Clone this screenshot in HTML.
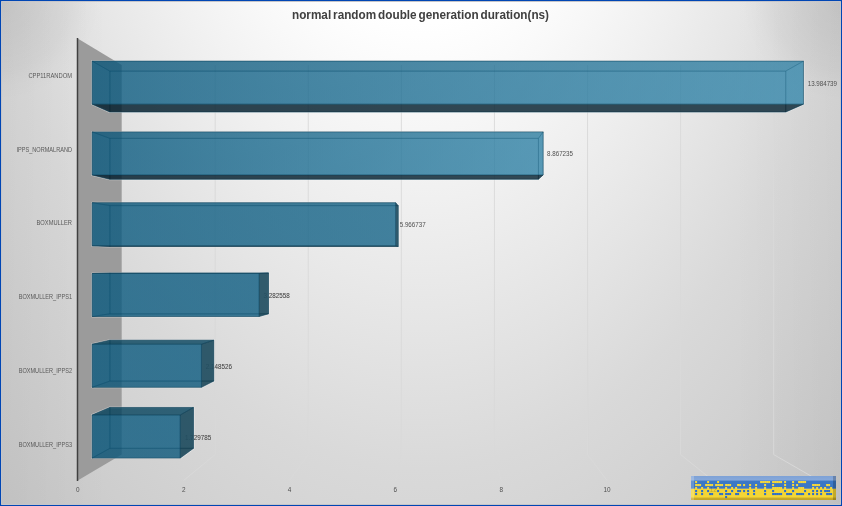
<!DOCTYPE html>
<html><head><meta charset="utf-8"><title>chart</title>
<style>html,body{margin:0;padding:0;background:#d0d0d0;overflow:hidden}body{width:842px;height:506px;position:relative;font-family:"Liberation Sans",sans-serif}</style>
</head><body>
<svg width="842" height="506" viewBox="0 0 842 506" style="position:absolute;left:0;top:0;will-change:transform;font-family:'Liberation Sans',sans-serif">
<defs>
<radialGradient id="bg" gradientUnits="userSpaceOnUse" cx="0" cy="0" r="1.4142" gradientTransform="translate(421,-405) scale(500,910.8)"><stop offset="0" stop-color="#ffffff"/><stop offset="0.3324" stop-color="#ffffff"/><stop offset="0.679" stop-color="#d9d9d9"/><stop offset="1" stop-color="#c0c0c0"/></radialGradient>
<radialGradient id="cnr" gradientUnits="userSpaceOnUse" cx="0" cy="0" r="100"><stop offset="0" stop-color="#000" stop-opacity="0.09"/><stop offset="0.2" stop-color="#000" stop-opacity="0.07"/><stop offset="0.35" stop-color="#000" stop-opacity="0.062"/><stop offset="0.7" stop-color="#000" stop-opacity="0.034"/><stop offset="0.85" stop-color="#000" stop-opacity="0.012"/><stop offset="1" stop-color="#000" stop-opacity="0"/></radialGradient>
<linearGradient id="edg" gradientUnits="userSpaceOnUse" x1="0" y1="0" x2="110" y2="0"><stop offset="0" stop-color="#000" stop-opacity="0.03"/><stop offset="1" stop-color="#000" stop-opacity="0"/></linearGradient>
<linearGradient id="bar0" gradientUnits="userSpaceOnUse" x1="92.18" y1="0" x2="803.45" y2="0"><stop offset="0" stop-color="rgb(11,90,127)"/><stop offset="1" stop-color="rgb(54,136,172)"/></linearGradient>
<linearGradient id="barD0" gradientUnits="userSpaceOnUse" x1="92.18" y1="0" x2="803.45" y2="0"><stop offset="0" stop-color="rgb(9,77,109)"/><stop offset="1" stop-color="rgb(49,122,155)"/></linearGradient>
<linearGradient id="bar1" gradientUnits="userSpaceOnUse" x1="92.18" y1="0" x2="543.17" y2="0"><stop offset="0" stop-color="rgb(11,90,127)"/><stop offset="1" stop-color="rgb(48,130,166)"/></linearGradient>
<linearGradient id="barD1" gradientUnits="userSpaceOnUse" x1="92.18" y1="0" x2="543.17" y2="0"><stop offset="0" stop-color="rgb(9,77,109)"/><stop offset="1" stop-color="rgb(43,117,149)"/></linearGradient>
<linearGradient id="bar2" gradientUnits="userSpaceOnUse" x1="92.18" y1="0" x2="395.65" y2="0"><stop offset="0" stop-color="rgb(11,90,127)"/><stop offset="1" stop-color="rgb(21,100,136)"/></linearGradient>
<linearGradient id="barD2" gradientUnits="userSpaceOnUse" x1="92.18" y1="0" x2="395.65" y2="0"><stop offset="0" stop-color="rgb(9,77,109)"/><stop offset="1" stop-color="rgb(19,90,122)"/></linearGradient>
<linearGradient id="bar3" gradientUnits="userSpaceOnUse" x1="92.18" y1="0" x2="259.13" y2="0"><stop offset="0" stop-color="rgb(11,90,127)"/><stop offset="1" stop-color="rgb(13,92,129)"/></linearGradient>
<linearGradient id="barD3" gradientUnits="userSpaceOnUse" x1="92.18" y1="0" x2="259.13" y2="0"><stop offset="0" stop-color="rgb(9,77,109)"/><stop offset="1" stop-color="rgb(12,83,116)"/></linearGradient>
<linearGradient id="bar4" gradientUnits="userSpaceOnUse" x1="92.18" y1="0" x2="201.45" y2="0"><stop offset="0" stop-color="rgb(11,90,127)"/><stop offset="1" stop-color="rgb(11,90,127)"/></linearGradient>
<linearGradient id="barD4" gradientUnits="userSpaceOnUse" x1="92.18" y1="0" x2="201.45" y2="0"><stop offset="0" stop-color="rgb(9,77,109)"/><stop offset="1" stop-color="rgb(10,81,114)"/></linearGradient>
<linearGradient id="bar5" gradientUnits="userSpaceOnUse" x1="92.18" y1="0" x2="180.16" y2="0"><stop offset="0" stop-color="rgb(11,90,127)"/><stop offset="1" stop-color="rgb(11,90,127)"/></linearGradient>
<linearGradient id="barD5" gradientUnits="userSpaceOnUse" x1="92.18" y1="0" x2="180.16" y2="0"><stop offset="0" stop-color="rgb(9,77,109)"/><stop offset="1" stop-color="rgb(10,81,114)"/></linearGradient>
<linearGradient id="bdgB" x1="0" y1="0" x2="0" y2="1"><stop offset="0" stop-color="#7ea2d6"/><stop offset="0.30" stop-color="#86a8da"/><stop offset="0.42" stop-color="#3c78c6"/><stop offset="1" stop-color="#3a76c4"/></linearGradient>
<linearGradient id="bdgY" x1="0" y1="0" x2="0" y2="1"><stop offset="0" stop-color="#f3d437"/><stop offset="0.72" stop-color="#f4d634"/><stop offset="0.86" stop-color="#c9aa28"/><stop offset="1" stop-color="#c2a326"/></linearGradient>
</defs>
<rect width="842" height="506" fill="url(#bg)"/>
<rect x="0" y="0" width="100" height="100" fill="url(#cnr)"/>
<rect x="0" y="0" width="100" height="100" fill="url(#cnr)" transform="translate(842,0) scale(-1,1)"/>
<rect x="0" y="0" width="110" height="506" fill="url(#edg)"/>
<rect x="0" y="0" width="110" height="506" fill="url(#edg)" transform="translate(842,0) scale(-1,1)"/>
<polyline points="215.2,65.05 215.2,454.54 183.56,480.5" fill="none" stroke="#d9d9d9" stroke-width="0.9"/>
<polyline points="308.28,65.05 308.28,454.54 289.42,480.5" fill="none" stroke="#d9d9d9" stroke-width="0.9"/>
<polyline points="401.36,65.05 401.36,454.54 395.28,480.5" fill="none" stroke="#d9d9d9" stroke-width="0.9"/>
<polyline points="494.44,65.05 494.44,454.54 501.14,480.5" fill="none" stroke="#d9d9d9" stroke-width="0.9"/>
<polyline points="587.52,65.05 587.52,454.54 607,480.5" fill="none" stroke="#d9d9d9" stroke-width="0.9"/>
<polyline points="680.6,65.05 680.6,454.54 712.86,480.5" fill="none" stroke="#d9d9d9" stroke-width="0.9"/>
<polyline points="773.68,65.05 773.68,454.54 818.72,480.5" fill="none" stroke="#d9d9d9" stroke-width="0.9"/>
<polygon points="77.7,38.5 121.69,65.05 121.69,454.54 77.7,480.5" fill="#9b9b9b"/>
<line x1="77.5" y1="38" x2="77.5" y2="481" stroke="#404040" stroke-width="1.5"/>
<text x="807.7" y="85.5" font-size="6.4" fill="#505050" textLength="29.3" lengthAdjust="spacingAndGlyphs">13.984739</text>
<text x="547" y="156.3" font-size="6.4" fill="#505050" textLength="26" lengthAdjust="spacingAndGlyphs">8.867235</text>
<text x="399.7" y="227.1" font-size="6.4" fill="#505050" textLength="26" lengthAdjust="spacingAndGlyphs">5.966737</text>
<clipPath id="lc3"><path clip-rule="evenodd" d="M0 0H842V506H0Z M92.18 273.47 L109.88 272.9 L268.53 272.9 L268.53 313.8 L259.13 316.52 L92.18 316.52 Z"/></clipPath>
<g opacity="0.4"><text x="263.6" y="298.2" font-size="6.4" fill="#505050" textLength="26.2" lengthAdjust="spacingAndGlyphs">3.282558</text></g>
<clipPath id="lc4"><path clip-rule="evenodd" d="M0 0H842V506H0Z M92.18 344.25 L109.88 340.16 L213.72 340.16 L213.72 381.07 L201.45 387.3 L92.18 387.3 Z"/></clipPath>
<g opacity="0.4"><text x="205.7" y="369" font-size="6.4" fill="#505050" textLength="26.3" lengthAdjust="spacingAndGlyphs">2.148526</text></g>
<clipPath id="lc5"><path clip-rule="evenodd" d="M0 0H842V506H0Z M92.18 415.04 L109.88 407.43 L193.48 407.43 L193.48 448.33 L180.16 458.09 L92.18 458.09 Z"/></clipPath>
<g opacity="0.4"><text x="185" y="439.8" font-size="6.4" fill="#505050" textLength="26.2" lengthAdjust="spacingAndGlyphs">1.729785</text></g>
<g>
<polygon points="92.18,61.11 803.45,61.11 803.45,104.16 785.77,112.01 109.88,112.01 92.18,104.16" fill="none" stroke="#ffffff" stroke-opacity="0.4" stroke-width="2.0" stroke-linejoin="round"/>
<polygon points="109.88,71.1 785.77,71.1 785.77,112.01 109.88,112.01" fill="url(#bar0)" fill-opacity="0.55" stroke="rgba(10,60,85,0.48)" stroke-width="0.7" stroke-linejoin="round"/>
<polygon points="92.18,61.11 109.88,71.1 109.88,112.01 92.18,104.16" fill="url(#bar0)" fill-opacity="0.55" stroke="rgba(10,60,85,0.48)" stroke-width="0.7" stroke-linejoin="round"/>
<polygon points="92.18,61.11 803.45,61.11 785.77,71.1 109.88,71.1" fill="url(#barD0)" fill-opacity="0.55" stroke="rgba(10,60,85,0.48)" stroke-width="0.7" stroke-linejoin="round"/>
<polygon points="803.45,61.11 785.77,71.1 785.77,112.01 803.45,104.16" fill="url(#bar0)" fill-opacity="0.55" stroke="rgba(10,60,85,0.48)" stroke-width="0.7" stroke-linejoin="round"/>
<polygon points="92.18,104.16 803.45,104.16 785.77,112.01 109.88,112.01" fill="rgb(2,12,20)" fill-opacity="0.64" stroke="rgba(10,60,85,0.48)" stroke-width="0.7" stroke-linejoin="round"/>
<polygon points="92.18,61.11 803.45,61.11 803.45,104.16 92.18,104.16" fill="url(#bar0)" fill-opacity="0.55" stroke="rgba(10,60,85,0.48)" stroke-width="0.7" stroke-linejoin="round"/>
</g>
<g>
<polygon points="92.18,131.89 543.17,131.89 543.17,174.94 538.44,179.27 109.88,179.27 92.18,174.94" fill="none" stroke="#ffffff" stroke-opacity="0.4" stroke-width="2.0" stroke-linejoin="round"/>
<polygon points="109.88,138.37 538.44,138.37 538.44,179.27 109.88,179.27" fill="url(#bar1)" fill-opacity="0.55" stroke="rgba(10,60,85,0.48)" stroke-width="0.7" stroke-linejoin="round"/>
<polygon points="92.18,131.89 109.88,138.37 109.88,179.27 92.18,174.94" fill="url(#bar1)" fill-opacity="0.55" stroke="rgba(10,60,85,0.48)" stroke-width="0.7" stroke-linejoin="round"/>
<polygon points="92.18,131.89 543.17,131.89 538.44,138.37 109.88,138.37" fill="url(#barD1)" fill-opacity="0.55" stroke="rgba(10,60,85,0.48)" stroke-width="0.7" stroke-linejoin="round"/>
<polygon points="543.17,131.89 538.44,138.37 538.44,179.27 543.17,174.94" fill="url(#bar1)" fill-opacity="0.55" stroke="rgba(10,60,85,0.48)" stroke-width="0.7" stroke-linejoin="round"/>
<polygon points="92.18,174.94 543.17,174.94 538.44,179.27 109.88,179.27" fill="rgb(2,12,20)" fill-opacity="0.64" stroke="rgba(10,60,85,0.48)" stroke-width="0.7" stroke-linejoin="round"/>
<polygon points="92.18,131.89 543.17,131.89 543.17,174.94 92.18,174.94" fill="url(#bar1)" fill-opacity="0.55" stroke="rgba(10,60,85,0.48)" stroke-width="0.7" stroke-linejoin="round"/>
</g>
<g>
<polygon points="92.18,202.68 395.65,202.68 398.25,205.63 398.25,246.54 109.88,246.54 92.18,245.73" fill="none" stroke="#ffffff" stroke-opacity="0.4" stroke-width="2.0" stroke-linejoin="round"/>
<polygon points="109.88,205.63 398.25,205.63 398.25,246.54 109.88,246.54" fill="url(#bar2)" fill-opacity="0.55" stroke="rgba(10,60,85,0.48)" stroke-width="0.7" stroke-linejoin="round"/>
<polygon points="92.18,202.68 109.88,205.63 109.88,246.54 92.18,245.73" fill="url(#bar2)" fill-opacity="0.55" stroke="rgba(10,60,85,0.48)" stroke-width="0.7" stroke-linejoin="round"/>
<polygon points="92.18,202.68 395.65,202.68 398.25,205.63 109.88,205.63" fill="url(#barD2)" fill-opacity="0.55" stroke="rgba(10,60,85,0.48)" stroke-width="0.7" stroke-linejoin="round"/>
<polygon points="92.18,245.73 395.65,245.73 398.25,246.54 109.88,246.54" fill="rgb(2,12,20)" fill-opacity="0.64" stroke="rgba(10,60,85,0.48)" stroke-width="0.7" stroke-linejoin="round"/>
<polygon points="395.65,202.68 398.25,205.63 398.25,246.54 395.65,245.73" fill="rgb(0,40,55)" fill-opacity="0.55" stroke="rgba(10,60,85,0.48)" stroke-width="0.7" stroke-linejoin="round"/>
<polygon points="92.18,202.68 395.65,202.68 395.65,245.73 92.18,245.73" fill="url(#bar2)" fill-opacity="0.55" stroke="rgba(10,60,85,0.48)" stroke-width="0.7" stroke-linejoin="round"/>
</g>
<g>
<polygon points="92.18,273.47 109.88,272.9 268.53,272.9 268.53,313.8 259.13,316.52 92.18,316.52" fill="none" stroke="#ffffff" stroke-opacity="0.4" stroke-width="2.0" stroke-linejoin="round"/>
<polygon points="109.88,272.9 268.53,272.9 268.53,313.8 109.88,313.8" fill="url(#bar3)" fill-opacity="0.55" stroke="rgba(10,60,85,0.48)" stroke-width="0.7" stroke-linejoin="round"/>
<polygon points="92.18,273.47 109.88,272.9 109.88,313.8 92.18,316.52" fill="url(#bar3)" fill-opacity="0.55" stroke="rgba(10,60,85,0.48)" stroke-width="0.7" stroke-linejoin="round"/>
<polygon points="92.18,316.52 259.13,316.52 268.53,313.8 109.88,313.8" fill="url(#barD3)" fill-opacity="0.55" stroke="rgba(10,60,85,0.48)" stroke-width="0.7" stroke-linejoin="round"/>
<polygon points="92.18,273.47 259.13,273.47 268.53,272.9 109.88,272.9" fill="rgb(0,55,76)" fill-opacity="0.55" stroke="rgba(10,60,85,0.48)" stroke-width="0.7" stroke-linejoin="round"/>
<polygon points="259.13,273.47 268.53,272.9 268.53,313.8 259.13,316.52" fill="rgb(0,40,55)" fill-opacity="0.55" stroke="rgba(10,60,85,0.48)" stroke-width="0.7" stroke-linejoin="round"/>
<polygon points="92.18,273.47 259.13,273.47 259.13,316.52 92.18,316.52" fill="url(#bar3)" fill-opacity="0.55" stroke="rgba(10,60,85,0.48)" stroke-width="0.7" stroke-linejoin="round"/>
</g>
<g>
<polygon points="92.18,344.25 109.88,340.16 213.72,340.16 213.72,381.07 201.45,387.3 92.18,387.3" fill="none" stroke="#ffffff" stroke-opacity="0.4" stroke-width="2.0" stroke-linejoin="round"/>
<polygon points="109.88,340.16 213.72,340.16 213.72,381.07 109.88,381.07" fill="url(#bar4)" fill-opacity="0.55" stroke="rgba(10,60,85,0.48)" stroke-width="0.7" stroke-linejoin="round"/>
<polygon points="92.18,344.25 109.88,340.16 109.88,381.07 92.18,387.3" fill="url(#bar4)" fill-opacity="0.55" stroke="rgba(10,60,85,0.48)" stroke-width="0.7" stroke-linejoin="round"/>
<polygon points="92.18,387.3 201.45,387.3 213.72,381.07 109.88,381.07" fill="url(#barD4)" fill-opacity="0.55" stroke="rgba(10,60,85,0.48)" stroke-width="0.7" stroke-linejoin="round"/>
<polygon points="92.18,344.25 201.45,344.25 213.72,340.16 109.88,340.16" fill="rgb(0,55,76)" fill-opacity="0.55" stroke="rgba(10,60,85,0.48)" stroke-width="0.7" stroke-linejoin="round"/>
<polygon points="201.45,344.25 213.72,340.16 213.72,381.07 201.45,387.3" fill="rgb(0,40,55)" fill-opacity="0.55" stroke="rgba(10,60,85,0.48)" stroke-width="0.7" stroke-linejoin="round"/>
<polygon points="92.18,344.25 201.45,344.25 201.45,387.3 92.18,387.3" fill="url(#bar4)" fill-opacity="0.55" stroke="rgba(10,60,85,0.48)" stroke-width="0.7" stroke-linejoin="round"/>
</g>
<g>
<polygon points="92.18,415.04 109.88,407.43 193.48,407.43 193.48,448.33 180.16,458.09 92.18,458.09" fill="none" stroke="#ffffff" stroke-opacity="0.4" stroke-width="2.0" stroke-linejoin="round"/>
<polygon points="109.88,407.43 193.48,407.43 193.48,448.33 109.88,448.33" fill="url(#bar5)" fill-opacity="0.55" stroke="rgba(10,60,85,0.48)" stroke-width="0.7" stroke-linejoin="round"/>
<polygon points="92.18,415.04 109.88,407.43 109.88,448.33 92.18,458.09" fill="url(#bar5)" fill-opacity="0.55" stroke="rgba(10,60,85,0.48)" stroke-width="0.7" stroke-linejoin="round"/>
<polygon points="92.18,458.09 180.16,458.09 193.48,448.33 109.88,448.33" fill="url(#barD5)" fill-opacity="0.55" stroke="rgba(10,60,85,0.48)" stroke-width="0.7" stroke-linejoin="round"/>
<polygon points="92.18,415.04 180.16,415.04 193.48,407.43 109.88,407.43" fill="rgb(0,55,76)" fill-opacity="0.55" stroke="rgba(10,60,85,0.48)" stroke-width="0.7" stroke-linejoin="round"/>
<polygon points="180.16,415.04 193.48,407.43 193.48,448.33 180.16,458.09" fill="rgb(0,40,55)" fill-opacity="0.55" stroke="rgba(10,60,85,0.48)" stroke-width="0.7" stroke-linejoin="round"/>
<polygon points="92.18,415.04 180.16,415.04 180.16,458.09 92.18,458.09" fill="url(#bar5)" fill-opacity="0.55" stroke="rgba(10,60,85,0.48)" stroke-width="0.7" stroke-linejoin="round"/>
</g>
<g clip-path="url(#lc3)"><text x="263.6" y="298.2" font-size="6.4" fill="#505050" textLength="26.2" lengthAdjust="spacingAndGlyphs">3.282558</text></g>
<g clip-path="url(#lc4)"><text x="205.7" y="369" font-size="6.4" fill="#505050" textLength="26.3" lengthAdjust="spacingAndGlyphs">2.148526</text></g>
<g clip-path="url(#lc5)"><text x="185" y="439.8" font-size="6.4" fill="#505050" textLength="26.2" lengthAdjust="spacingAndGlyphs">1.729785</text></g>
<text x="28.4" y="78" font-size="6.4" fill="#595959" textLength="43.6" lengthAdjust="spacingAndGlyphs">CPP11RANDOM</text>
<text x="16.5" y="151.74" font-size="6.4" fill="#595959" textLength="55.5" lengthAdjust="spacingAndGlyphs">IPPS_NORMALRAND</text>
<text x="36.5" y="225.48" font-size="6.4" fill="#595959" textLength="35.5" lengthAdjust="spacingAndGlyphs">BOXMULLER</text>
<text x="18.7" y="299.22" font-size="6.4" fill="#595959" textLength="53.3" lengthAdjust="spacingAndGlyphs">BOXMULLER_IPPS1</text>
<text x="18.7" y="372.96" font-size="6.4" fill="#595959" textLength="53.3" lengthAdjust="spacingAndGlyphs">BOXMULLER_IPPS2</text>
<text x="18.7" y="446.7" font-size="6.4" fill="#595959" textLength="53.3" lengthAdjust="spacingAndGlyphs">BOXMULLER_IPPS3</text>
<text x="77.8" y="491.6" font-size="6.4" fill="#505050" text-anchor="middle">0</text>
<text x="183.66" y="491.6" font-size="6.4" fill="#505050" text-anchor="middle">2</text>
<text x="289.52" y="491.6" font-size="6.4" fill="#505050" text-anchor="middle">4</text>
<text x="395.38" y="491.6" font-size="6.4" fill="#505050" text-anchor="middle">6</text>
<text x="501.24" y="491.6" font-size="6.4" fill="#505050" text-anchor="middle">8</text>
<text x="607.1" y="491.6" font-size="6.4" fill="#505050" text-anchor="middle">10</text>
<text x="292" y="18.6" font-size="12.6" font-weight="bold" fill="#404040" textLength="257" lengthAdjust="spacingAndGlyphs" word-spacing="-1.4">normal random double generation duration(ns)</text>
<g>
<rect x="691" y="476" width="145" height="12.8" fill="url(#bdgB)"/>
<rect x="691" y="488.8" width="145" height="11.2" fill="url(#bdgY)"/>
<rect x="691" y="476" width="3" height="24" fill="#ffffff" fill-opacity="0.22"/>
<rect x="833" y="476" width="3" height="24" fill="#000000" fill-opacity="0.20"/>
<text x="713.3" y="491.8" font-size="6.4" fill="#303030" fill-opacity="0.28" text-anchor="middle">12</text>
<rect x="695.1" y="481" width="2" height="2.1" fill="#f6d83a"/>
<rect x="707.1" y="481" width="2" height="2.1" fill="#f6d83a"/>
<rect x="717.1" y="481" width="2" height="2.1" fill="#f6d83a"/>
<rect x="760.1" y="481" width="2" height="2.1" fill="#f6d83a"/>
<rect x="762.1" y="481" width="2" height="2.1" fill="#f6d83a"/>
<rect x="764.1" y="481" width="2" height="2.1" fill="#f6d83a"/>
<rect x="766.1" y="481" width="2" height="2.1" fill="#f6d83a"/>
<rect x="768.1" y="481" width="2" height="2.1" fill="#f6d83a"/>
<rect x="772.1" y="481" width="2" height="2.1" fill="#f6d83a"/>
<rect x="774.1" y="481" width="2" height="2.1" fill="#f6d83a"/>
<rect x="776.1" y="481" width="2" height="2.1" fill="#f6d83a"/>
<rect x="778.1" y="481" width="2" height="2.1" fill="#f6d83a"/>
<rect x="780.1" y="481" width="2" height="2.1" fill="#f6d83a"/>
<rect x="784.1" y="481" width="2" height="2.1" fill="#f6d83a"/>
<rect x="792.1" y="481" width="2" height="2.1" fill="#f6d83a"/>
<rect x="798.1" y="481" width="2" height="2.1" fill="#f6d83a"/>
<rect x="800.1" y="481" width="2" height="2.1" fill="#f6d83a"/>
<rect x="802.1" y="481" width="2" height="2.1" fill="#f6d83a"/>
<rect x="804.1" y="481" width="2" height="2.1" fill="#f6d83a"/>
<rect x="695.1" y="484" width="2" height="2.1" fill="#f6d83a"/>
<rect x="697.1" y="484" width="2" height="2.1" fill="#f6d83a"/>
<rect x="699.1" y="484" width="2" height="2.1" fill="#f6d83a"/>
<rect x="705.1" y="484" width="2" height="2.1" fill="#f6d83a"/>
<rect x="707.1" y="484" width="2" height="2.1" fill="#f6d83a"/>
<rect x="709.1" y="484" width="2" height="2.1" fill="#f6d83a"/>
<rect x="711.1" y="484" width="2" height="2.1" fill="#f6d83a"/>
<rect x="715.1" y="484" width="2" height="2.1" fill="#f6d83a"/>
<rect x="717.1" y="484" width="2" height="2.1" fill="#f6d83a"/>
<rect x="719.1" y="484" width="2" height="2.1" fill="#f6d83a"/>
<rect x="721.1" y="484" width="2" height="2.1" fill="#f6d83a"/>
<rect x="725.1" y="484" width="2" height="2.1" fill="#f6d83a"/>
<rect x="727.1" y="484" width="2" height="2.1" fill="#f6d83a"/>
<rect x="729.1" y="484" width="2" height="2.1" fill="#f6d83a"/>
<rect x="737.1" y="484" width="2" height="2.1" fill="#f6d83a"/>
<rect x="739.1" y="484" width="2" height="2.1" fill="#f6d83a"/>
<rect x="743.1" y="484" width="2" height="2.1" fill="#f6d83a"/>
<rect x="749.1" y="484" width="2" height="2.1" fill="#f6d83a"/>
<rect x="755.1" y="484" width="2" height="2.1" fill="#f6d83a"/>
<rect x="764.1" y="484" width="2" height="2.1" fill="#f6d83a"/>
<rect x="772.1" y="484" width="2" height="2.1" fill="#f6d83a"/>
<rect x="784.1" y="484" width="2" height="2.1" fill="#f6d83a"/>
<rect x="792.1" y="484" width="2" height="2.1" fill="#f6d83a"/>
<rect x="796.1" y="484" width="2" height="2.1" fill="#f6d83a"/>
<rect x="812.1" y="484" width="2" height="2.1" fill="#f6d83a"/>
<rect x="814.1" y="484" width="2" height="2.1" fill="#f6d83a"/>
<rect x="816.1" y="484" width="2" height="2.1" fill="#f6d83a"/>
<rect x="818.1" y="484" width="2" height="2.1" fill="#f6d83a"/>
<rect x="826.1" y="484" width="2" height="2.1" fill="#f6d83a"/>
<rect x="828.1" y="484" width="2" height="2.1" fill="#f6d83a"/>
<rect x="695.1" y="487" width="2" height="2.1" fill="#f6d83a"/>
<rect x="701.1" y="487" width="2" height="2.1" fill="#f6d83a"/>
<rect x="707.1" y="487" width="2" height="2.1" fill="#f6d83a"/>
<rect x="717.1" y="487" width="2" height="2.1" fill="#f6d83a"/>
<rect x="725.1" y="487" width="2" height="2.1" fill="#f6d83a"/>
<rect x="731.1" y="487" width="2" height="2.1" fill="#f6d83a"/>
<rect x="735.1" y="487" width="2" height="2.1" fill="#f6d83a"/>
<rect x="749.1" y="487" width="2" height="2.1" fill="#f6d83a"/>
<rect x="755.1" y="487" width="2" height="2.1" fill="#f6d83a"/>
<rect x="764.1" y="487" width="2" height="2.1" fill="#f6d83a"/>
<rect x="772.1" y="487" width="2" height="2.1" fill="#f6d83a"/>
<rect x="774.1" y="487" width="2" height="2.1" fill="#f6d83a"/>
<rect x="776.1" y="487" width="2" height="2.1" fill="#f6d83a"/>
<rect x="778.1" y="487" width="2" height="2.1" fill="#f6d83a"/>
<rect x="780.1" y="487" width="2" height="2.1" fill="#f6d83a"/>
<rect x="784.1" y="487" width="2" height="2.1" fill="#f6d83a"/>
<rect x="792.1" y="487" width="2" height="2.1" fill="#f6d83a"/>
<rect x="798.1" y="487" width="2" height="2.1" fill="#f6d83a"/>
<rect x="800.1" y="487" width="2" height="2.1" fill="#f6d83a"/>
<rect x="802.1" y="487" width="2" height="2.1" fill="#f6d83a"/>
<rect x="812.1" y="487" width="2" height="2.1" fill="#f6d83a"/>
<rect x="816.1" y="487" width="2" height="2.1" fill="#f6d83a"/>
<rect x="820.1" y="487" width="2" height="2.1" fill="#f6d83a"/>
<rect x="824.1" y="487" width="2" height="2.1" fill="#f6d83a"/>
<rect x="830.1" y="487" width="2" height="2.1" fill="#f6d83a"/>
<rect x="695.1" y="490" width="2" height="2.1" fill="#2f6fc8"/>
<rect x="701.1" y="490" width="2" height="2.1" fill="#2f6fc8"/>
<rect x="707.1" y="490" width="2" height="2.1" fill="#2f6fc8"/>
<rect x="717.1" y="490" width="2" height="2.1" fill="#2f6fc8"/>
<rect x="725.1" y="490" width="2" height="2.1" fill="#2f6fc8"/>
<rect x="731.1" y="490" width="2" height="2.1" fill="#2f6fc8"/>
<rect x="737.1" y="490" width="2" height="2.1" fill="#2f6fc8"/>
<rect x="739.1" y="490" width="2" height="2.1" fill="#2f6fc8"/>
<rect x="743.1" y="490" width="2" height="2.1" fill="#2f6fc8"/>
<rect x="747.1" y="490" width="2" height="2.1" fill="#2f6fc8"/>
<rect x="753.1" y="490" width="2" height="2.1" fill="#2f6fc8"/>
<rect x="764.1" y="490" width="2" height="2.1" fill="#2f6fc8"/>
<rect x="772.1" y="490" width="2" height="2.1" fill="#2f6fc8"/>
<rect x="784.1" y="490" width="2" height="2.1" fill="#2f6fc8"/>
<rect x="792.1" y="490" width="2" height="2.1" fill="#2f6fc8"/>
<rect x="804.1" y="490" width="2" height="2.1" fill="#2f6fc8"/>
<rect x="812.1" y="490" width="2" height="2.1" fill="#2f6fc8"/>
<rect x="816.1" y="490" width="2" height="2.1" fill="#2f6fc8"/>
<rect x="820.1" y="490" width="2" height="2.1" fill="#2f6fc8"/>
<rect x="824.1" y="490" width="2" height="2.1" fill="#2f6fc8"/>
<rect x="826.1" y="490" width="2" height="2.1" fill="#2f6fc8"/>
<rect x="828.1" y="490" width="2" height="2.1" fill="#2f6fc8"/>
<rect x="695.1" y="493" width="2" height="2.1" fill="#2f6fc8"/>
<rect x="701.1" y="493" width="2" height="2.1" fill="#2f6fc8"/>
<rect x="709.1" y="493" width="2" height="2.1" fill="#2f6fc8"/>
<rect x="711.1" y="493" width="2" height="2.1" fill="#2f6fc8"/>
<rect x="719.1" y="493" width="2" height="2.1" fill="#2f6fc8"/>
<rect x="721.1" y="493" width="2" height="2.1" fill="#2f6fc8"/>
<rect x="725.1" y="493" width="2" height="2.1" fill="#2f6fc8"/>
<rect x="727.1" y="493" width="2" height="2.1" fill="#2f6fc8"/>
<rect x="729.1" y="493" width="2" height="2.1" fill="#2f6fc8"/>
<rect x="735.1" y="493" width="2" height="2.1" fill="#2f6fc8"/>
<rect x="737.1" y="493" width="2" height="2.1" fill="#2f6fc8"/>
<rect x="747.1" y="493" width="2" height="2.1" fill="#2f6fc8"/>
<rect x="753.1" y="493" width="2" height="2.1" fill="#2f6fc8"/>
<rect x="764.1" y="493" width="2" height="2.1" fill="#2f6fc8"/>
<rect x="772.1" y="493" width="2" height="2.1" fill="#2f6fc8"/>
<rect x="774.1" y="493" width="2" height="2.1" fill="#2f6fc8"/>
<rect x="776.1" y="493" width="2" height="2.1" fill="#2f6fc8"/>
<rect x="778.1" y="493" width="2" height="2.1" fill="#2f6fc8"/>
<rect x="780.1" y="493" width="2" height="2.1" fill="#2f6fc8"/>
<rect x="786.1" y="493" width="2" height="2.1" fill="#2f6fc8"/>
<rect x="788.1" y="493" width="2" height="2.1" fill="#2f6fc8"/>
<rect x="790.1" y="493" width="2" height="2.1" fill="#2f6fc8"/>
<rect x="796.1" y="493" width="2" height="2.1" fill="#2f6fc8"/>
<rect x="798.1" y="493" width="2" height="2.1" fill="#2f6fc8"/>
<rect x="800.1" y="493" width="2" height="2.1" fill="#2f6fc8"/>
<rect x="802.1" y="493" width="2" height="2.1" fill="#2f6fc8"/>
<rect x="808.1" y="493" width="2" height="2.1" fill="#2f6fc8"/>
<rect x="812.1" y="493" width="2" height="2.1" fill="#2f6fc8"/>
<rect x="816.1" y="493" width="2" height="2.1" fill="#2f6fc8"/>
<rect x="820.1" y="493" width="2" height="2.1" fill="#2f6fc8"/>
<rect x="826.1" y="493" width="2" height="2.1" fill="#2f6fc8"/>
<rect x="828.1" y="493" width="2" height="2.1" fill="#2f6fc8"/>
<rect x="830.1" y="493" width="2" height="2.1" fill="#2f6fc8"/>
<rect x="725.1" y="496" width="2" height="2.1" fill="#2f6fc8"/>
</g>
<rect x="1.5" y="1.5" width="839" height="503" fill="none" stroke="#dcd3cb" stroke-width="1"/>
<rect x="0.5" y="0.5" width="841" height="505" fill="none" stroke="#0046b4" stroke-width="1.2"/>
</svg>
</body></html>
